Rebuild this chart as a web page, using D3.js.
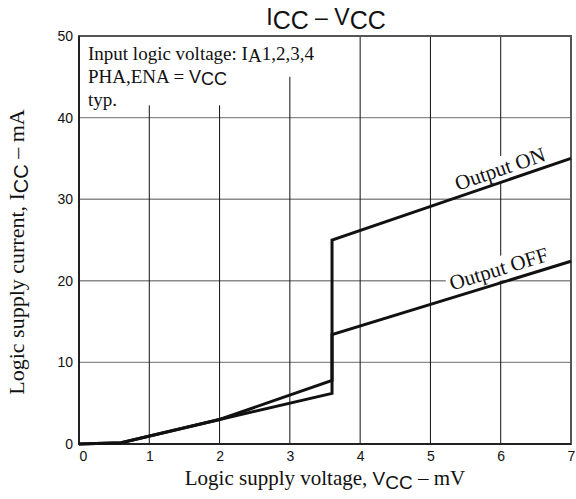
<!DOCTYPE html>
<html>
<head>
<meta charset="utf-8">
<script src="https://cdn.jsdelivr.net/npm/d3@7"></script>
<style>
  body { margin: 0; background: #fff; }
  svg { display: block; }
  .serif { font-family: "Liberation Serif", "Times New Roman", serif; }
  .sans { font-family: "Liberation Sans", Arial, sans-serif; }
</style>
</head>
<body>
<div id="chart"></div>
<script>
const width = 576;
const height = 499;
const margin = {left: 79, right: 5, top: 36, bottom: 55};

// values
const xTicks = [0, 1, 2, 3, 4, 5, 6, 7];
const yTicks = [0, 10, 20, 30, 40, 50];
const onVolts = [0, 0.6, 2, 3.6, 3.6, 7];
const onCurrent = [0, 0.15, 3.0, 6.2, 25, 35];
const offVolts = [0, 0.6, 2, 3.6, 3.6, 7];
const offCurrent = [0, 0.15, 3.0, 7.8, 13.4, 22.4];

const svg = d3.select("#chart")
    .append("svg")
    .attr("width", width)
    .attr("height", height);

const x = d3.scaleLinear().domain([0, 7]).range([margin.left, width - margin.right]);
const y = d3.scaleLinear().domain([0, 50]).range([height - margin.bottom, margin.top]);

// horizontal grid (gray)
svg.append("g")
  .selectAll("line")
  .data(yTicks.filter(d => d > 0 && d < 50))
  .enter()
  .append("line")
    .attr("x1", x(0)).attr("x2", x(7))
    .attr("y1", d => y(d)).attr("y2", d => y(d))
    .attr("stroke", "#8a8a8a")
    .attr("stroke-width", 1.4);

// vertical grid (black), the first ones stop under the note text
const gridTop = {1: 41.5, 2: 41.5, 3: 45};
svg.append("g")
  .selectAll("line")
  .data(xTicks.filter(d => d > 0 && d < 7))
  .enter()
  .append("line")
    .attr("x1", d => x(d)).attr("x2", d => x(d))
    .attr("y1", y(0))
    .attr("y2", d => y(gridTop[d] || 50))
    .attr("stroke", "#111")
    .attr("stroke-width", 1);

// frame
svg.append("rect")
    .attr("x", x(0)).attr("y", y(50))
    .attr("width", x(7) - x(0)).attr("height", y(0) - y(50))
    .attr("fill", "none")
    .attr("stroke", "#555")
    .attr("stroke-width", 2);
svg.append("path")
    .attr("d", `M${x(0)},${y(50)}V${y(0)}H${x(7)}`)
    .attr("fill", "none")
    .attr("stroke", "#111")
    .attr("stroke-width", 1.5);

// tick labels
const xAxis = d3.axisBottom(x).tickValues(xTicks).tickSize(0).tickPadding(7).tickFormat(d3.format("d"));
const yAxis = d3.axisLeft(y).tickValues(yTicks).tickSize(0).tickPadding(6).tickFormat(d3.format("d"));
const gx = svg.append("g").attr("transform", `translate(0,${y(0)})`).call(xAxis);
const gy = svg.append("g").attr("transform", `translate(${x(0)},0)`).call(yAxis);
[gx, gy].forEach(g => {
  g.select(".domain").remove();
  g.selectAll("text")
    .attr("class", "sans")
    .attr("font-size", 14)
    .attr("fill", "#111");
});
gx.selectAll(".tick").filter(d => d === 0).select("text").attr("dx", 4);

// data lines
const line = d3.line().x(d => x(d[0])).y(d => y(d[1]));
const onPts = onVolts.map((v, i) => [v, onCurrent[i]]);
const offPts = offVolts.map((v, i) => [v, offCurrent[i]]);

// labels along the lines, white box hides the grid behind
function lineLabel(pts, label, atX, offset) {
  const a = pts[pts.length - 2], b = pts[pts.length - 1];
  const t = (atX - a[0]) / (b[0] - a[0]);
  const yv = a[1] + t * (b[1] - a[1]);
  const ang = Math.atan2(y(b[1]) - y(a[1]), x(b[0]) - x(a[0])) * 180 / Math.PI;
  const g = svg.append("g")
      .attr("transform", `translate(${x(atX)},${y(yv)}) rotate(${ang})`);
  const bg = g.append("rect").attr("fill", "#fff");
  const txt = g.append("text")
      .attr("class", "serif")
      .attr("font-size", 21)
      .attr("text-anchor", "middle")
      .attr("y", -offset)
      .attr("fill", "#111")
      .text(label);
  const bb = txt.node().getBBox();
  bg.attr("x", bb.x - 3).attr("y", bb.y).attr("width", bb.width + 6).attr("height", bb.height);
}
lineLabel(onPts, "Output ON", 6.05, 6);
lineLabel(offPts, "Output OFF", 6.03, 7);

[onPts, offPts].forEach(p => {
  svg.append("path")
      .datum(p)
      .attr("d", line)
      .attr("fill", "none")
      .attr("stroke", "#111")
      .attr("stroke-width", 3)
      .attr("stroke-linejoin", "miter");
});

// title
const title = svg.append("text")
    .attr("class", "sans")
    .attr("x", 326).attr("y", 25)
    .attr("text-anchor", "middle")
    .attr("fill", "#111");
title.append("tspan").attr("font-size", 23).text("I");
title.append("tspan").attr("font-size", 25).attr("dy", 4).text("CC");
title.append("tspan").attr("font-size", 23).attr("dy", -4).text(" \u2013 ");
title.append("tspan").attr("font-size", 23).text("V");
title.append("tspan").attr("font-size", 25).attr("dy", 4).text("CC");

// note in the top left corner
const note = svg.append("g").attr("class", "serif").attr("fill", "#111").attr("font-size", 19);
const n1 = note.append("text").attr("x", 88).attr("y", 60);
n1.append("tspan").text("Input logic voltage: I");
n1.append("tspan").attr("dy", 2).text("A");
n1.append("tspan").attr("dy", -2).text("1,2,3,4");
const n2 = note.append("text").attr("x", 88).attr("y", 83);
n2.append("tspan").text("PHA,ENA = ");
n2.append("tspan").attr("class", "sans").attr("font-size", 18).text("V");
n2.append("tspan").attr("class", "sans").attr("font-size", 18).attr("dy", 2).text("CC");
note.append("text").attr("x", 88).attr("y", 106).text("typ.");

// axis titles
const xt = svg.append("text")
    .attr("class", "serif")
    .attr("font-size", 21)
    .attr("fill", "#111")
    .attr("text-anchor", "middle")
    .attr("x", 325).attr("y", 485);
xt.append("tspan").text("Logic supply voltage, ");
xt.append("tspan").attr("class", "sans").attr("font-size", 19).text("V");
xt.append("tspan").attr("class", "sans").attr("font-size", 19).attr("dy", 4).text("CC");
xt.append("tspan").attr("dy", -4).text(" \u2013 mV");

const yt = svg.append("text")
    .attr("class", "serif")
    .attr("font-size", 22)
    .attr("fill", "#111")
    .attr("text-anchor", "middle")
    .attr("transform", "translate(24,252) rotate(-90)");
yt.append("tspan").text("Logic supply current, I");
yt.append("tspan").attr("class", "sans").attr("font-size", 20).attr("dy", 4).text("CC");
yt.append("tspan").attr("dy", -4).text(" \u2013 mA");
</script>
</body>
</html>
